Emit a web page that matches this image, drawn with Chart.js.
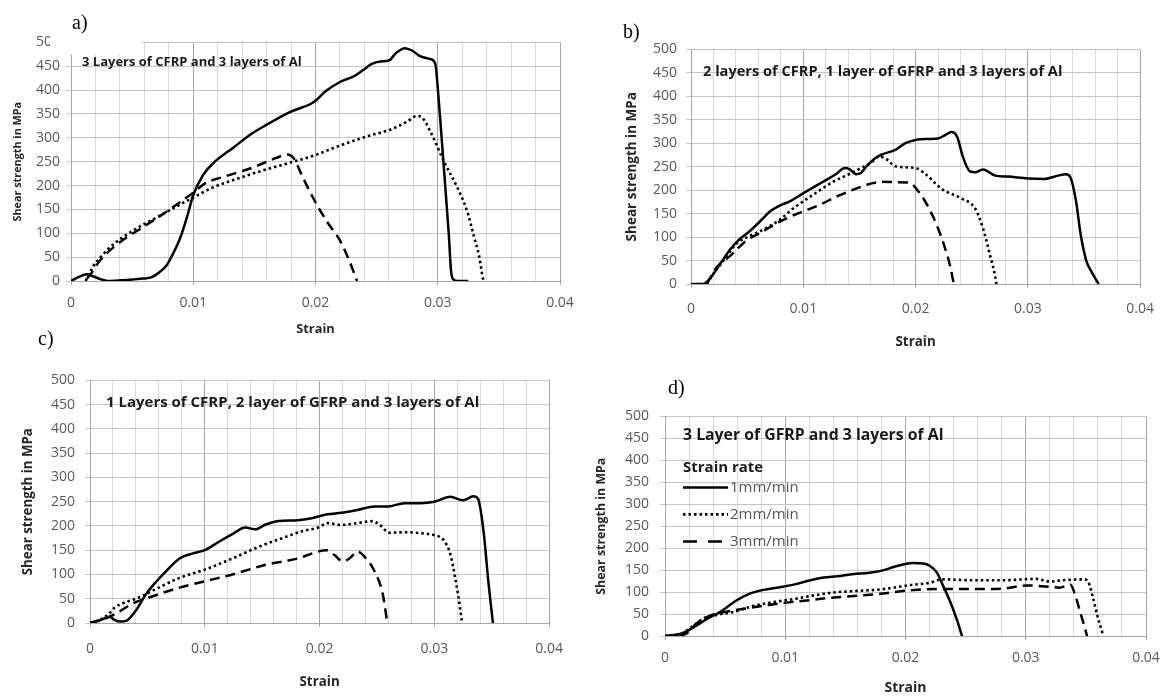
<!DOCTYPE html>
<html>
<head>
<meta charset="utf-8">
<script src="https://cdn.jsdelivr.net/npm/chart.js@4.4.0/dist/chart.umd.min.js"></script>
<style>
  body { margin: 0; background: #fff; }
  #fig { position: relative; width: 1169px; height: 696px; overflow: hidden; background: #fff; }
  #fig canvas { position: absolute; }
  .tag { position: absolute; font-family: "Liberation Serif", serif; font-size: 20px; line-height: 20px; color: #000; }
</style>
</head>
<body>
<div id="fig">
  <canvas id="chartA"></canvas>
  <canvas id="chartB"></canvas>
  <canvas id="chartC"></canvas>
  <canvas id="chartD"></canvas>
  <div class="tag" style="left:72px;top:12px">a)</div>
  <div class="tag" style="left:623px;top:21px">b)</div>
  <div class="tag" style="left:38px;top:328px">c)</div>
  <div class="tag" style="left:668px;top:377px">d)</div>
</div>
<script>
// Series labels (strain rate)
const seriesLabels = ["1mm/min", "2mm/min", "3mm/min"];

// a) 3 Layers of CFRP and 3 layers of Al
const aSolidX = [0, 0.0006, 0.0013, 0.0018, 0.0024, 0.0032, 0.0045, 0.0059, 0.0066, 0.0072, 0.0078, 0.0084, 0.0089, 0.0095, 0.0100, 0.0108, 0.0116, 0.0133, 0.0148, 0.0159, 0.0179, 0.0198, 0.0209, 0.0220, 0.0232, 0.0239, 0.0246, 0.0253, 0.0260, 0.0266, 0.0273, 0.0279, 0.0285, 0.0294, 0.0298, 0.0300, 0.0303, 0.0306, 0.0309, 0.0311, 0.0313, 0.0316, 0.0325];
const aSolidY = [0, 8, 14, 10, 4, 0, 2, 5, 8, 18, 32, 60, 88, 135, 180, 222, 246, 280, 309, 326, 354, 374, 399, 417, 430, 442, 455, 460, 462, 478, 488, 483, 472, 465, 455, 405, 306, 203, 99, 18, 3, 0, 0];
const aDotX = [0.0012, 0.0018, 0.0025, 0.0032, 0.0051, 0.0070, 0.0089, 0.0100, 0.0116, 0.0138, 0.0160, 0.0182, 0.0200, 0.0215, 0.0242, 0.0261, 0.0275, 0.0283, 0.0287, 0.0294, 0.0305, 0.0316, 0.0324, 0.0329, 0.0334, 0.0337, 0.0338];
const aDotY = [0, 30, 52, 71, 106, 133, 160, 175, 196, 216, 234, 250, 264, 279, 303, 317, 334, 346, 343, 313, 251, 196, 147, 99, 50, 5, 0];
const aDashX = [0.0013, 0.0016, 0.0024, 0.0035, 0.0046, 0.0059, 0.0078, 0.0089, 0.0100, 0.0110, 0.0127, 0.0149, 0.0168, 0.0177, 0.0182, 0.0190, 0.0200, 0.0210, 0.0220, 0.0228, 0.0234];
const aDashY = [5, 14, 44, 71, 92, 113, 145, 165, 185, 205, 220, 238, 258, 265, 258, 215, 165, 122, 85, 40, 0];

// b) 2 layers of CFRP, 1 layer of GFRP and 3 layers of Al
const bSolidX = [0, 0.0011, 0.0017, 0.0026, 0.0035, 0.0043, 0.0052, 0.0063, 0.0070, 0.0079, 0.0088, 0.0099, 0.0114, 0.0129, 0.0137, 0.0141, 0.0147, 0.0151, 0.0156, 0.0164, 0.0170, 0.0182, 0.0191, 0.0200, 0.0212, 0.0220, 0.0226, 0.0232, 0.0237, 0.0242, 0.0248, 0.0253, 0.0260, 0.0271, 0.0282, 0.0300, 0.0315, 0.0327, 0.0334, 0.0338, 0.0343, 0.0347, 0.0352, 0.0356, 0.0363];
const bSolidY = [0, 0, 12, 43, 74, 95, 112, 137, 154, 167, 176, 192, 213, 234, 247, 245, 234, 236, 250, 268, 276, 286, 300, 307, 309, 310, 317, 324, 314, 272, 241, 238, 244, 231, 229, 225, 224, 231, 234, 227, 175, 106, 50, 29, 0];
const bDotX = [0.0014, 0.0020, 0.0029, 0.0040, 0.0052, 0.0067, 0.0079, 0.0091, 0.0108, 0.0126, 0.0144, 0.0161, 0.0167, 0.0173, 0.0182, 0.0200, 0.0209, 0.0223, 0.0241, 0.0253, 0.0260, 0.0266, 0.0271, 0.0272];
const bDotY = [0, 22, 50, 85, 102, 119, 137, 161, 189, 217, 238, 260, 271, 268, 251, 247, 234, 203, 182, 161, 119, 64, 15, 0];
const bDashX = [0.0014, 0.0023, 0.0035, 0.0049, 0.0064, 0.0079, 0.0096, 0.0114, 0.0132, 0.0150, 0.0162, 0.0170, 0.0182, 0.0194, 0.0203, 0.0212, 0.0220, 0.0226, 0.0231, 0.0234];
const bDashY = [0, 36, 60, 92, 112, 133, 151, 168, 189, 206, 215, 218, 217, 216, 196, 161, 119, 78, 36, 0];

// c) 1 Layers of CFRP, 2 layer of GFRP and 3 layers of Al
const cSolidX = [0, 0.0009, 0.0017, 0.0021, 0.0026, 0.0032, 0.0040, 0.0049, 0.0058, 0.0066, 0.0078, 0.0089, 0.0100, 0.0112, 0.0124, 0.0135, 0.0144, 0.0153, 0.0164, 0.0181, 0.0193, 0.0207, 0.0219, 0.0233, 0.0248, 0.0259, 0.0274, 0.0288, 0.0300, 0.0314, 0.0325, 0.0334, 0.0338, 0.0343, 0.0347, 0.0351];
const cSolidY = [0, 6, 13, 7, 3, 5, 26, 60, 86, 106, 133, 143, 150, 167, 183, 197, 193, 203, 210, 212, 216, 224, 227, 233, 240, 240, 247, 247, 250, 260, 253, 261, 256, 186, 86, 0];
const cDotX = [0, 0.0010, 0.0017, 0.0022, 0.0026, 0.0043, 0.0060, 0.0078, 0.0100, 0.0124, 0.0147, 0.0170, 0.0186, 0.0199, 0.0207, 0.0219, 0.0233, 0.0246, 0.0252, 0.0261, 0.0274, 0.0288, 0.0300, 0.0308, 0.0314, 0.0318, 0.0321, 0.0324];
const cDotY = [0, 8, 20, 33, 38, 53, 73, 93, 110, 133, 157, 177, 190, 197, 206, 202, 206, 210, 203, 186, 187, 185, 181, 171, 141, 95, 53, 3];
const cDashX = [0, 0.0011, 0.0023, 0.0037, 0.0052, 0.0078, 0.0100, 0.0124, 0.0153, 0.0181, 0.0193, 0.0206, 0.0213, 0.0220, 0.0226, 0.0233, 0.0239, 0.0248, 0.0255, 0.0259];
const cDashY = [0, 7, 20, 40, 53, 73, 86, 100, 120, 133, 143, 150, 140, 127, 133, 147, 137, 106, 60, 0];

// d) 3 Layer of GFRP and 3 layers of Al
const dSolidX = [0, 0.0014, 0.0024, 0.0035, 0.0046, 0.0060, 0.0071, 0.0082, 0.0093, 0.0107, 0.0121, 0.0132, 0.0143, 0.0157, 0.0170, 0.0182, 0.0190, 0.0198, 0.0207, 0.0215, 0.0220, 0.0226, 0.0231, 0.0237, 0.0243, 0.0247];
const dSolidY = [0, 6, 20, 39, 55, 82, 97, 105, 110, 117, 127, 133, 136, 141, 144, 150, 157, 163, 166, 165, 160, 145, 116, 79, 35, 0];
const dDotX = [0, 0.0014, 0.0024, 0.0032, 0.0043, 0.0057, 0.0073, 0.0090, 0.0107, 0.0123, 0.0140, 0.0162, 0.0179, 0.0190, 0.0204, 0.0220, 0.0231, 0.0254, 0.0281, 0.0309, 0.0320, 0.0331, 0.0348, 0.0352, 0.0356, 0.0360, 0.0364];
const dDotY = [0, 6, 24, 40, 48, 55, 68, 77, 84, 92, 99, 103, 106, 110, 116, 121, 129, 127, 127, 130, 124, 127, 129, 123, 86, 42, 5];
const dDashX = [0.0012, 0.0018, 0.0026, 0.0037, 0.0051, 0.0068, 0.0085, 0.0101, 0.0118, 0.0134, 0.0157, 0.0179, 0.0190, 0.0204, 0.0226, 0.0254, 0.0281, 0.0301, 0.0320, 0.0328, 0.0337, 0.0341, 0.0345, 0.0349, 0.0351];
const dDashY = [0, 6, 28, 46, 55, 63, 70, 76, 81, 86, 91, 96, 100, 104, 107, 107, 108, 115, 112, 110, 117, 94, 57, 20, 0];

// Axis ticks
const strainMin = 0, strainMax = 0.04, strainStep = 0.002;
const stressMin = 0, stressMax = 500, stressStep = 50;

const FONT = '"Open Sans", "Noto Sans", sans-serif';

function isMajor(v) {
  return Math.abs(v * 100 - Math.round(v * 100)) < 1e-6;
}

function pts(xs, ys) {
  return xs.map((x, i) => ({ x: x, y: ys[i] }));
}

// text inside the plot: title, (a) the white patch, (d) the legend
const panelText = {
  id: "panelText",
  afterDraw(chart, args, opts) {
    const { ctx, chartArea } = chart;
    const L = chartArea.left, T = chartArea.top;
    ctx.save();
    if (opts.mask) {
      ctx.fillStyle = "#fff";
      ctx.fillRect(L + opts.mask[0], T + opts.mask[1], opts.mask[2], opts.mask[3]);
    }
    ctx.fillStyle = "#1a1a1a";
    ctx.textBaseline = "middle";
    ctx.font = `bold ${opts.size}px ${FONT}`;
    ctx.fillText(opts.text, L + opts.dx, T + opts.dy);
    if (opts.legend) {
      ctx.font = `bold 15px ${FONT}`;
      ctx.fillText("Strain rate", L + 18, T + 51);
      chart.data.datasets.forEach((ds, i) => {
        const y = T + 71 + i * 27;
        ctx.strokeStyle = "#000";
        ctx.lineWidth = ds.borderWidth;
        ctx.setLineDash(i === 2 ? [14, 11] : ds.borderDash || []);
        ctx.beginPath();
        ctx.moveTo(L + 18, y);
        ctx.lineTo(L + 63, y);
        ctx.stroke();
        ctx.setLineDash([]);
        ctx.fillStyle = "#555";
        ctx.font = `15px ${FONT}`;
        ctx.fillText(ds.label, L + 65, y);
      });
    }
    ctx.restore();
  },
};

function makePanel(id, p) {
  const canvas = document.getElementById(id);
  const yLh = p.yTitleSize * 1.2;
  const xLh = p.xTitleSize * 1.2;
  const cx = Math.round(p.yTitleX - yLh / 2) - 1;
  const cy = p.area.top - 12;
  const xh = Math.round(p.xTitleY + xLh / 2 - p.area.bottom);
  const yw = p.area.left - cx - 1;
  canvas.width = p.area.right + 24 - cx;
  canvas.height = p.area.bottom + xh - cy;
  canvas.style.left = cx + "px";
  canvas.style.top = cy + "px";

  const line = { pointRadius: 0, fill: false, borderColor: "#000", cubicInterpolationMode: "monotone" };

  return new Chart(canvas.getContext("2d"), {
    type: "line",
    data: {
      datasets: [
        { ...line, label: seriesLabels[0], data: pts(p.solid[0], p.solid[1]), borderWidth: 2.5 },
        { ...line, label: seriesLabels[1], data: pts(p.dot[0], p.dot[1]), borderWidth: 2.6, borderDash: [2.5, 3] },
        { ...line, label: seriesLabels[2], data: pts(p.dash[0], p.dash[1]), borderWidth: 2.5, borderDash: [10, 6] },
      ],
    },
    options: {
      responsive: false,
      animation: false,
      devicePixelRatio: 1,
      layout: { padding: { left: 1, top: 12, right: 24, bottom: 0 } },
      plugins: {
        legend: { display: false },
        tooltip: { enabled: false },
        panelText: p.text,
      },
      scales: {
        x: {
          type: "linear",
          min: strainMin,
          max: strainMax,
          afterFit: (s) => { s.height = xh; },
          ticks: {
            stepSize: strainStep,
            maxTicksLimit: 100,
            autoSkip: false,
            maxRotation: 0,
            minRotation: 0,
            padding: p.xPad,
            color: "#595959",
            font: { family: FONT, size: 14 },
            callback: (v) => (isMajor(v) ? String(Math.round(v * 100) / 100) : ""),
          },
          grid: {
            color: (c) => (c.tick && isMajor(c.tick.value) ? "#a6a6a6" : "#d9d9d9"),
            tickColor: (c) => (c.tick && isMajor(c.tick.value) ? "#a6a6a6" : "rgba(0,0,0,0)"),
            tickLength: 4,
          },
          border: { color: "#a6a6a6" },
          title: {
            display: true,
            text: "Strain",
            color: "#262626",
            padding: 0,
            font: { family: FONT, size: p.xTitleSize, weight: "bold" },
          },
        },
        y: {
          min: stressMin,
          max: stressMax,
          afterFit: (s) => { s.width = yw; },
          ticks: {
            stepSize: stressStep,
            padding: p.yPad,
            color: "#595959",
            font: { family: FONT, size: 14 },
          },
          grid: { color: "#c4c4c4", tickLength: 5 },
          border: { color: "#a6a6a6" },
          title: {
            display: true,
            text: "Shear strength in MPa",
            color: "#262626",
            padding: 0,
            font: { family: FONT, size: p.yTitleSize, weight: "bold" },
          },
        },
      },
    },
    plugins: [panelText],
  });
}

makePanel("chartA", {
  area: { left: 71, top: 40, right: 560, bottom: 281 },
  yTitleX: 17, yTitleSize: 10.8, xTitleY: 329, xTitleSize: 12.8, xPad: 10, yPad: 6,
  solid: [aSolidX, aSolidY], dot: [aDotX, aDotY], dash: [aDashX, aDashY],
  text: { text: "3 Layers of CFRP and 3 layers of Al", size: 13, dx: 11, dy: 20, mask: [-21, -10, 92, 22] },
});
makePanel("chartB", {
  area: { left: 691, top: 44, right: 1143, bottom: 284 },
  yTitleX: 632, yTitleSize: 13.5, xTitleY: 342, xTitleSize: 13.4, xPad: 13, yPad: 9,
  solid: [bSolidX, bSolidY], dot: [bDotX, bDotY], dash: [bDashX, bDashY],
  text: { text: "2 layers of CFRP, 1 layer of GFRP and 3 layers of Al", size: 14.6, dx: 12, dy: 22 },
});
makePanel("chartC", {
  area: { left: 90, top: 374, right: 553, bottom: 623 },
  yTitleX: 28, yTitleSize: 13.3, xTitleY: 682, xTitleSize: 13.4, xPad: 14, yPad: 10,
  solid: [cSolidX, cSolidY], dot: [cDotX, cDotY], dash: [cDashX, cDashY],
  text: { text: "1 Layers of CFRP, 2 layer of GFRP and 3 layers of Al", size: 15, dx: 16, dy: 22 },
});
makePanel("chartD", {
  area: { left: 665, top: 409, right: 1146, bottom: 636 },
  yTitleX: 601, yTitleSize: 12.4, xTitleY: 688, xTitleSize: 14, xPad: 10, yPad: 11,
  solid: [dSolidX, dSolidY], dot: [dDotX, dDotY], dash: [dDashX, dDashY],
  text: { text: "3 Layer of GFRP and 3 layers of Al", size: 15.8, dx: 18, dy: 19, legend: true },
});
</script>
</body>
</html>
